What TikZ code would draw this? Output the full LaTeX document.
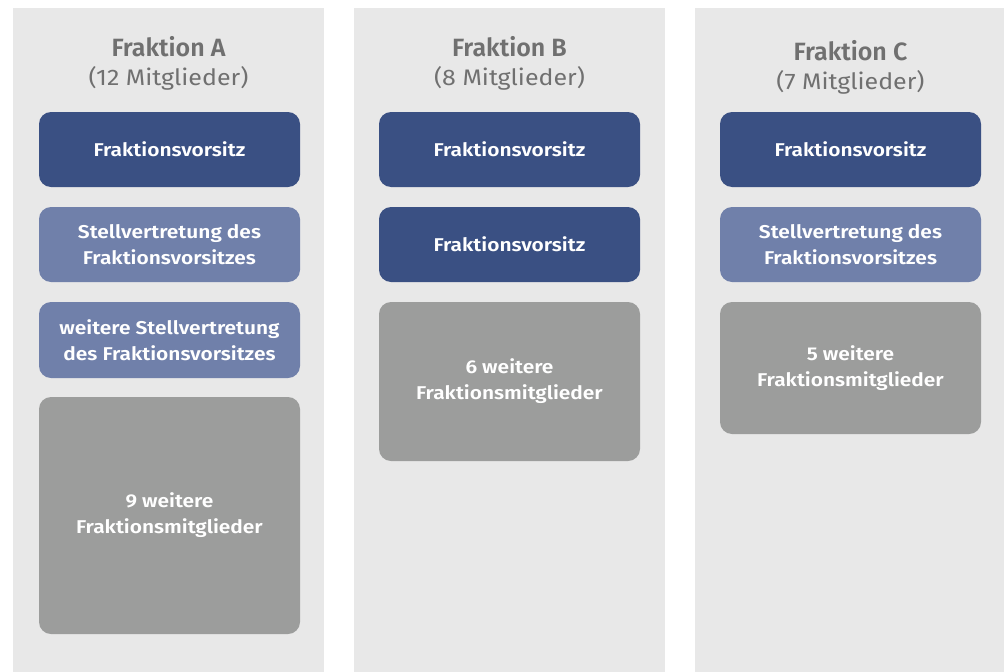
\documentclass[tikz,border=0pt]{standalone}
\usepackage{fontspec}
\setmainfont{Fira Sans}
\newfontfamily\boxfont{Fira Sans SemiBold}[FakeStretch=1.13]
\newfontfamily\headfont{Fira Sans SemiBold}
\newfontfamily\countfont{Fira Sans}[FakeStretch=1.11]
\definecolor{panelbg}{HTML}{E8E8E8}
\definecolor{chair}{HTML}{3A5083}
\definecolor{deputy}{HTML}{7080AA}
\definecolor{members}{HTML}{9C9D9C}
\definecolor{titlegray}{HTML}{707070}
\begin{document}
\begin{tikzpicture}[x=1pt,y=-1pt,
  panel/.style={fill=panelbg, draw=none},
  box/.style={rounded corners=12pt, draw=none, text=white, font=\boxfont\fontsize{18.5}{26}\selectfont,
    align=center, inner sep=0pt, minimum width=261pt},
  chairbox/.style={box, fill=chair, minimum height=75pt},
  deputybox/.style={box, fill=deputy, minimum height=75pt},
  memberbox/.style={box, fill=members},
  ftitle/.style={text=titlegray, font=\headfont\fontsize{25}{28}\selectfont, anchor=base, inner sep=0pt},
  fsub/.style={text=titlegray, font=\countfont\fontsize{22.5}{26}\selectfont, anchor=base, inner sep=0pt}]
\useasboundingbox (0,0) rectangle (1004,672);
% columns
\path[panel] (13,8) rectangle (324,672);
\path[panel] (354,8) rectangle (665,672);
\path[panel] (695,8) rectangle (1004,672);
% Fraktion A
\node[ftitle] (tA) at (168.5,56.5) {Fraktion A};
\node[fsub] (sA) at (168.5,85.5) {(12 Mitglieder)};
\node[chairbox] (a1) at (169.5,149.5) {Fraktionsvorsitz};
\node[deputybox] (a2) at (169.5,244.5) {Stellvertretung des\\Fraktionsvorsitzes};
\node[deputybox, minimum height=76pt] (a3) at (169.5,340) {weitere Stellvertretung\\des Fraktionsvorsitzes};
\node[memberbox, minimum height=237pt] (a4) at (169.5,515.5) {9 weitere\\Fraktionsmitglieder};
% Fraktion B
\node[ftitle] (tB) at (509.5,56.5) {Fraktion B};
\node[fsub] (sB) at (509.5,85.5) {(8 Mitglieder)};
\node[chairbox] (b1) at (509.5,149.5) {Fraktionsvorsitz};
\node[chairbox] (b2) at (509.5,244.5) {Fraktionsvorsitz};
\node[memberbox, minimum height=159pt] (b3) at (509.5,381.5) {6 weitere\\Fraktionsmitglieder};
% Fraktion C
\node[ftitle] (tC) at (850.5,60.5) {Fraktion C};
\node[fsub] (sC) at (850.5,89.5) {(7 Mitglieder)};
\node[chairbox] (c1) at (850.5,149.5) {Fraktionsvorsitz};
\node[deputybox] (c2) at (850.5,244.5) {Stellvertretung des\\Fraktionsvorsitzes};
\node[memberbox, minimum height=132pt] (c3) at (850.5,368) {5 weitere\\Fraktionsmitglieder};
\end{tikzpicture}
\end{document}
